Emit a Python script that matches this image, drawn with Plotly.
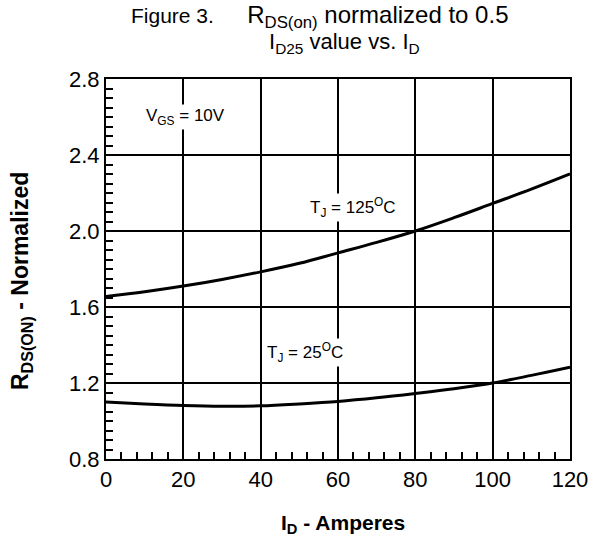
import plotly.graph_objects as go

# Data
id_amps = [0, 10, 20, 30, 40, 50, 60, 70, 80, 90, 100, 110, 120]
rds_125c = [1.655, 1.68, 1.71, 1.745, 1.785, 1.83, 1.885, 1.94, 2.0, 2.07, 2.145, 2.22, 2.30]
rds_25c = [1.10, 1.09, 1.082, 1.078, 1.08, 1.09, 1.103, 1.122, 1.145, 1.17, 1.20, 1.24, 1.283]

x_ticks = [0, 20, 40, 60, 80, 100, 120]
y_ticks = [0.8, 1.2, 1.6, 2.0, 2.4, 2.8]
y_tick_labels = ["0.8", "1.2", "1.6", "2.0", "2.4", "2.8"]

title_line1 = ("<span style='font-size:21px'>Figure 3.</span>\u00a0\u00a0\u00a0\u00a0\u00a0"
               "R<sub>DS(on)</sub> normalized to 0.5")
title_line2 = "I<sub>D25</sub> value vs. I<sub>D</sub>"

FONT = "Liberation Sans, Arial, sans-serif"

fig = go.Figure()
fig.add_trace(go.Scatter(x=id_amps, y=rds_125c, mode="lines", line=dict(color="black", width=3, shape="spline"),
                         showlegend=False))
fig.add_trace(go.Scatter(x=id_amps, y=rds_25c, mode="lines", line=dict(color="black", width=3, shape="spline"),
                         showlegend=False))

axis_common = dict(showline=True, linecolor="black", linewidth=2, mirror=True,
                   showgrid=True, gridcolor="black", gridwidth=1.5, zeroline=False,
                   ticks="inside", ticklen=7, tickcolor="black", tickwidth=1.5,
                   tickfont=dict(family=FONT, size=22, color="black"))

fig.update_xaxes(range=[0, 120], tickvals=x_ticks,
                 minor=dict(ticks="inside", ticklen=7, dtick=4, tickcolor="black", tickwidth=1.5, showgrid=False),
                 **axis_common)
fig.update_yaxes(range=[0.8, 2.8], tickvals=y_ticks, ticktext=y_tick_labels,
                 minor=dict(ticks="inside", ticklen=7, dtick=0.05, tickcolor="black", tickwidth=1.5, showgrid=False),
                 **axis_common)

# axis titles
fig.add_annotation(x=0.5, y=0, xref="paper", yref="paper", xanchor="center", yanchor="middle",
                   xshift=5, yshift=-65, showarrow=False,
                   text="<b>I<sub>D</sub> - Amperes</b>",
                   font=dict(family=FONT, size=21, color="black"))
fig.add_annotation(x=0, y=0.5, xref="paper", yref="paper", xanchor="center", yanchor="middle",
                   xshift=-85, yshift=-12, textangle=-90, showarrow=False,
                   text="<b>R<sub>DS(ON)</sub> - Normalized</b>",
                   font=dict(family=FONT, size=23, color="black"))

ann_font = dict(family=FONT, size=17, color="black")
fig.add_annotation(x=20.5, y=2.6, text="V<sub>GS</sub> = 10V", showarrow=False, font=ann_font,
                   bgcolor="white")
fig.add_annotation(x=64, y=2.125, text="T<sub>J</sub> = 125<sup>O</sup>C", showarrow=False, font=ann_font,
                   bgcolor="white")
fig.add_annotation(x=51.5, y=1.363, text="T<sub>J</sub> = 25<sup>O</sup>C", showarrow=False, font=ann_font,
                   bgcolor="white")

fig.add_annotation(x=(520 - 106) / 475, y=1, xref="paper", yref="paper", xanchor="right", yanchor="middle",
                   yshift=63, text=title_line1, showarrow=False,
                   font=dict(family=FONT, size=24, color="black"))
fig.add_annotation(x=0.515, y=1, xref="paper", yref="paper", yanchor="middle", yshift=36,
                   text=title_line2, showarrow=False, font=dict(family=FONT, size=22, color="black"))

fig.update_layout(
    width=600, height=554,
    margin=dict(l=106, r=19, t=79, b=95),
    paper_bgcolor="white", plot_bgcolor="white",
)

fig.write_html("out.html")
